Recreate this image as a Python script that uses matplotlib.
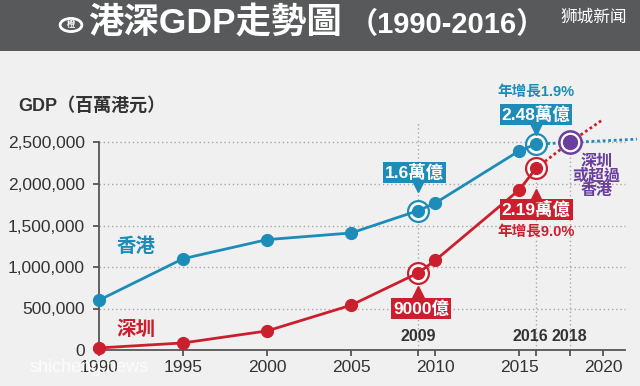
"""
港深GDP走勢圖 (1990-2016)
"""

import matplotlib
matplotlib.use("Agg")
import matplotlib.pyplot as plt
from matplotlib.patches import Rectangle, Circle
from matplotlib.transforms import offset_copy

plt.rcParams['font.family'] = ['Liberation Sans', 'Noto Sans CJK TC', 'DejaVu Sans']

# GDP (millions of HKD)
YEARS = [1990, 1995, 2000, 2005, 2009, 2010, 2015, 2016]
HK_GDP = [600000, 1100000, 1330000, 1410000, 1680000, 1770000, 2400000, 2480000]
SZ_GDP = [25000, 85000, 230000, 540000, 930000, 1080000, 1930000, 2190000]
# Projections after 2016
HK_PROJ_YEARS = [2016, 2018, 2022]
HK_PROJ = [2480000, 2500000, 2540000]
SZ_PROJ_YEARS = [2016, 2018, 2020]
SZ_PROJ = [2190000, 2500000, 2780000]
CROSS_YEAR = 2018
CROSS_GDP = 2500000
MARK_YEARS = [2009, 2016, 2018]
Y_TICKS = [0, 500000, 1000000, 1500000, 2000000, 2500000]
X_TICKS = [1990, 1995, 2000, 2005, 2010, 2015, 2020]

BLUE = '#1d8cb8'
RED = '#cc1f2e'
PURPLE = '#6a3e9c'
BG = '#f0f0f0'
DARK = '#333333'

fig = plt.figure(figsize=(6.4, 3.86), dpi=100, facecolor=BG)

# Title bar
fig.patches.append(Rectangle((0, 1 - 51 / 386), 1, 51 / 386, transform=fig.transFigure,
                             facecolor='#58595b', edgecolor='none', zorder=0))
fig.patches.append(Circle((71 / 640, 1 - 25 / 386), 0.017, transform=fig.transFigure,
                          facecolor='none', edgecolor='white', linewidth=2))
fig.text(71 / 640, 1 - 25 / 386, '橙', color='white', fontsize=6, ha='center', va='center',
         fontweight='bold')
fig.text(88 / 640, 1 - 23 / 386, '港深GDP走勢圖', color='white', fontsize=25.5,
         fontweight='heavy', ha='left', va='center')
fig.text(349 / 640, 1 - 25 / 386, '（1990-2016）', color='white', fontsize=21,
         fontweight='bold', ha='left', va='center')
fig.text(594 / 640, 1 - 17 / 386, '狮城新闻', color='white', fontsize=12, ha='center', va='center',
         family=['Noto Sans CJK SC', 'DejaVu Sans'])

fig.text(18 / 640, 1 - 106 / 386, 'GDP（百萬港元）', color=DARK, fontsize=13,
         fontweight='heavy', ha='left', va='center')

ax = fig.add_axes([99 / 640, 36 / 386, 543 / 640, 249 / 386])
ax.set_facecolor(BG)
ax.set_xlim(1990, 2022.3)
ax.set_ylim(0, 3000000)

for s in ['top', 'right']:
    ax.spines[s].set_visible(False)
for s in ['left', 'bottom']:
    ax.spines[s].set_color('#555555')
    ax.spines[s].set_linewidth(1.3)
ax.spines['left'].set_bounds(0, 2500000)
ax.spines['bottom'].set_bounds(1990, 2021.3)

ax.set_yticks(Y_TICKS)
ax.set_yticklabels([f'{v:,}' for v in Y_TICKS])
ax.set_xticks(X_TICKS + MARK_YEARS)
ax.set_xticklabels([str(v) for v in X_TICKS] + [''] * len(MARK_YEARS))
ax.tick_params(axis='both', colors='#555555', labelcolor=DARK, labelsize=12.5,
               length=4, width=1.3, direction='out')
ax.tick_params(axis='y', pad=6)
ax.tick_params(axis='x', pad=3)

# gridlines
ax.hlines(Y_TICKS[1:], 1990, 2021.3, colors='#a8a8a8', linestyles=(0, (1, 2)), linewidth=1,
          zorder=1)
for yr, top in zip(MARK_YEARS, [2750000, 2190000, 2650000]):
    ax.vlines(yr, 0, top, colors='#a8a8a8', linestyles=(0, (1, 2)), linewidth=1, zorder=1)
    ax.text(yr + (0.0 if yr != 2016 else -0.35), 157000, str(yr), color=DARK, fontsize=11.5,
            fontweight='heavy', ha='center', va='center')

# projections
ax.plot(HK_PROJ_YEARS, HK_PROJ, color=BLUE, linestyle=(0, (1, 1)), linewidth=2, clip_on=False,
        zorder=2)
ax.plot(SZ_PROJ_YEARS, SZ_PROJ, color=RED, linestyle=(0, (1, 1)), linewidth=2, clip_on=False,
        zorder=2)

# series
for vals, col in [(HK_GDP, BLUE), (SZ_GDP, RED)]:
    ax.plot(YEARS, vals, color=col, linewidth=2, marker='o', markersize=8.5,
            markerfacecolor=col, markeredgecolor=col, clip_on=False, zorder=4)
    for yr in (2009, 2016):
        v = vals[YEARS.index(yr)]
        ax.plot(yr, v, marker='o', markersize=15, markerfacecolor='white',
                markeredgecolor=col, markeredgewidth=1.6, zorder=3)
ax.plot(CROSS_YEAR, CROSS_GDP, marker='o', markersize=16, markerfacecolor='white',
        markeredgecolor=PURPLE, markeredgewidth=1.8, zorder=3)
ax.plot(CROSS_YEAR, CROSS_GDP, marker='o', markersize=10, color=PURPLE, zorder=5)

ax.text(1992.2, 1250000, '香港', color=BLUE, fontsize=14, fontweight='bold',
        ha='center', va='center')
ax.text(1992.2, 240000, '深圳', color=RED, fontsize=14, fontweight='bold',
        ha='center', va='center')


def callout(x, y, text, color, dx, dy, tri_dy, tri):
    """Boxed label with a small pointer triangle near a data point."""
    t = offset_copy(ax.transData, fig=fig, x=dx, y=dy, units='dots')
    ax.text(x, y, text, transform=t, color='white', fontsize=12.5, fontweight='heavy',
            ha='center', va='center', zorder=6,
            bbox=dict(boxstyle='square,pad=0.12', facecolor=color, edgecolor='none'))
    tt = offset_copy(ax.transData, fig=fig, x=0, y=tri_dy, units='dots')
    ax.plot(x, y, marker=tri, markersize=8, color=color, transform=tt, zorder=6,
            clip_on=False)


def note(x, y, text, color, dy):
    t = offset_copy(ax.transData, fig=fig, x=0, y=dy, units='dots')
    ax.text(x, y, text, transform=t, color=color, fontsize=10.5, fontweight='heavy',
            ha='center', va='center', zorder=6)


i09 = YEARS.index(2009)
i16 = YEARS.index(2016)
callout(2009, HK_GDP[i09], '1.6萬億', BLUE, -4, 38, 25, 'v')
callout(2016, HK_GDP[i16], '2.48萬億', BLUE, 0, 30, 15, 'v')
note(2016, HK_GDP[i16], '年增長1.9%', BLUE, 52)
callout(2016, SZ_GDP[i16], '2.19萬億', RED, 0, -41, -27, '^')
note(2016, SZ_GDP[i16], '年增長9.0%', RED, -64)
callout(2009, SZ_GDP[i09], '9000億', RED, 3, -36, -19, '^')

ax.text(2019.6, 2100000, '深圳\n或超過\n香港', color=PURPLE, fontsize=11.5, fontweight='heavy',
        ha='center', va='center', linespacing=0.95)

fig.text(30 / 640, 18 / 386, 'shicheng.news', color='white', alpha=0.8, fontsize=13,
         ha='left', va='center')

fig.savefig('out.png', dpi=100, facecolor=BG)
